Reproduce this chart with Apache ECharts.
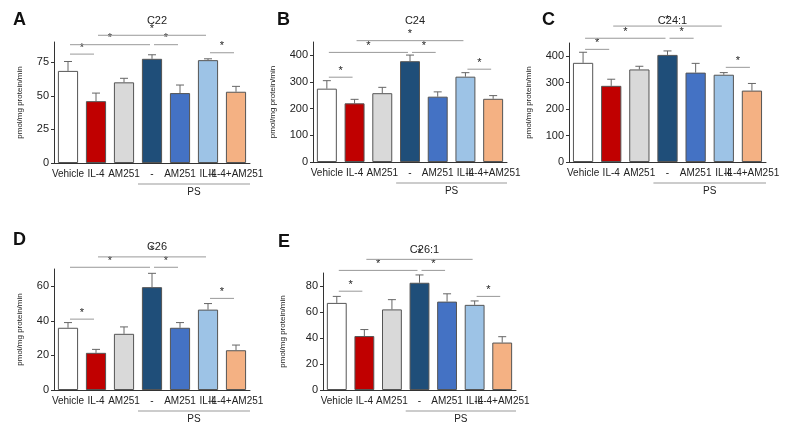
<!DOCTYPE html>
<html><head><meta charset="utf-8">
<script src="https://cdn.jsdelivr.net/npm/echarts@6/dist/echarts.min.js"></script>
<style>html,body{margin:0;padding:0;background:#fff}#c{width:789px;height:426px}</style>
</head><body><div id="c"></div>
<script>
const categories = ['Vehicle','IL-4','AM251','-','AM251','IL-4','IL-4+AM251'];
const barColors = ['#ffffff','#c00000','#d9d9d9','#1f4e79','#4472c4','#9dc3e6','#f4b183'];
const titles = ['C22','C24','C24:1','C26','C26:1'];
const letters = ['A','B','C','D','E'];
const c22Values = [68.5,46,60,77.5,52,76.5,53];
const c22Err    = [7,6,3,3,6,1,4];
const c24Values = [275,220,258,378,245,320,237];
const c24Err    = [30,15,22,23,18,15,12];
const c241Values = [375,288,350,405,338,330,270];
const c241Err    = [40,25,12,15,35,8,27];
const c26Values = [36,21.5,32.5,59.5,36,46.5,23];
const c26Err    = [3,2,4,8,3,3.5,3];
const c261Values = [67,41.5,62,82.5,68,65.5,36.5];
const c261Err    = [5,5,7.5,6,6,3,4.5];
// significance brackets: [fromIndex, toIndex, yValue]
const c22Sig = [[0,1,81],[0,3,88],[3,4,88],[1,5,95],[5,6,82]];
const c24Sig = [[0,1,318],[0,3,411],[3,4,411],[1,5,455],[5,6,348]];
const c241Sig = [[0,1,426],[0,3,468],[3,4,468],[1,5,514],[5,6,358]];
const c26Sig = [[0,1,41],[0,3,71],[3,4,71],[1,5,77],[5,6,53]];
const c261Sig = [[0,1,76],[0,3,92],[3,4,92],[1,5,100.5],[5,6,72]];
const yMax = [90,450,450,70,90];
const yInterval = [25,100,100,20,20];

const values = [c22Values,c24Values,c241Values,c26Values,c261Values];
const errs = [c22Err,c24Err,c241Err,c26Err,c261Err];
const sigs = [c22Sig,c24Sig,c241Sig,c26Sig,c261Sig];
const grids = [
  {left:54,top:42,width:196,height:121},
  {left:313,top:42,width:194,height:120},
  {left:569,top:43,width:197,height:119},
  {left:54,top:269,width:196,height:121},
  {left:323,top:273,width:193,height:117}
];
const chart = echarts.init(document.getElementById('c'));
const xAxis=[],yAxis=[],series=[],title=[];
grids.forEach((g,k)=>{
  xAxis.push({type:'category',gridIndex:k,data:categories,
    axisLine:{lineStyle:{color:'#333'}},axisTick:{alignWithLabel:true,length:3,lineStyle:{color:'#333'}},
    axisLabel:{interval:0,fontSize:10,color:'#222',margin:6,fontFamily:'Arial, Liberation Sans'}});
  yAxis.push({type:'value',gridIndex:k,min:0,max:yMax[k],interval:yInterval[k],
    splitLine:{show:false},axisLine:{show:true,lineStyle:{color:'#333'}},
    axisTick:{show:true,length:3,lineStyle:{color:'#333'}},
    axisLabel:{fontSize:11,color:'#222',margin:5,fontFamily:'Arial, Liberation Sans',showMaxLabel:yMax[k]%yInterval[k]===0&&k!==0&&k!==1&&k!==2&&k!==3&&k!==4?true:false},
    name:'pmol/mg protein/min',nameLocation:'middle',nameRotate:90,nameGap:k===0||k===3?30:36,
    nameTextStyle:{fontSize:8,color:'#222'}});
  series.push({type:'bar',xAxisIndex:k,yAxisIndex:k,barWidth:'72%',
    data:values[k].map((v,i)=>({value:v,itemStyle:{color:barColors[i]}})),
    itemStyle:{borderColor:'#555',borderWidth:1}});
  series.push({type:'custom',xAxisIndex:k,yAxisIndex:k,clip:false,
    data:values[k].map((v,i)=>[i,v,errs[k][i]]),
    renderItem:(p,api)=>{
      const i=api.value(0),v=api.value(1),e=api.value(2);
      const a=api.coord([i,v]),b=api.coord([i,v+e]);
      const s={stroke:'#666',lineWidth:1};
      return {type:'group',children:[
        {type:'line',shape:{x1:a[0],y1:a[1],x2:b[0],y2:b[1]},style:s},
        {type:'line',shape:{x1:b[0]-4,y1:b[1],x2:b[0]+4,y2:b[1]},style:s}]};
    }});
  series.push({type:'custom',xAxisIndex:k,yAxisIndex:k,clip:false,
    data:sigs[k],
    renderItem:(p,api)=>{
      const a=api.coord([api.value(0),api.value(2)]),b=api.coord([api.value(1),api.value(2)]);
      return {type:'group',children:[
        {type:'line',shape:{x1:a[0]+2,y1:a[1],x2:b[0]-2,y2:b[1]},style:{stroke:'#999',lineWidth:1}},
        {type:'text',style:{text:'*',x:(a[0]+b[0])/2,y:a[1]-1,align:'center',verticalAlign:'bottom',fontSize:11,fill:'#222'}}]};
    }});
  // PS group line under categories 3..6
  series.push({type:'custom',xAxisIndex:k,yAxisIndex:k,clip:false,
    data:[[3,6,'PS']],
    renderItem:(p,api)=>{
      const a=api.coord([api.value(0),0]),b=api.coord([api.value(1),0]);
      const bw=api.size([1,0])[0];
      const y=a[1]+21;
      return {type:'group',children:[
        {type:'line',shape:{x1:a[0]-bw*0.5,y1:y,x2:b[0]+bw*0.5,y2:y},style:{stroke:'#999',lineWidth:1}},
        {type:'text',style:{text:'PS',x:(a[0]-bw*0.5+b[0]+bw*0.5)/2,y:y+8,align:'center',verticalAlign:'middle',fontSize:10,fill:'#222'}}]};
    }});
  title.push({text:titles[k],left:g.left+g.width/2,top:k<3?10:(k===3?236:239),textAlign:'center',
    textStyle:{fontSize:11,fontWeight:'normal',color:'#222'}});
});
const letterPos=[[8,6],[272,6],[537,6],[8,226],[273,228]];
letterPos.forEach((p,k)=>title.push({text:letters[k],left:p[0],top:p[1],textStyle:{fontSize:18,fontWeight:'bold',color:'#111'}}));
chart.setOption({animation:false,title,grid:grids,xAxis,yAxis,series});
</script></body></html>
